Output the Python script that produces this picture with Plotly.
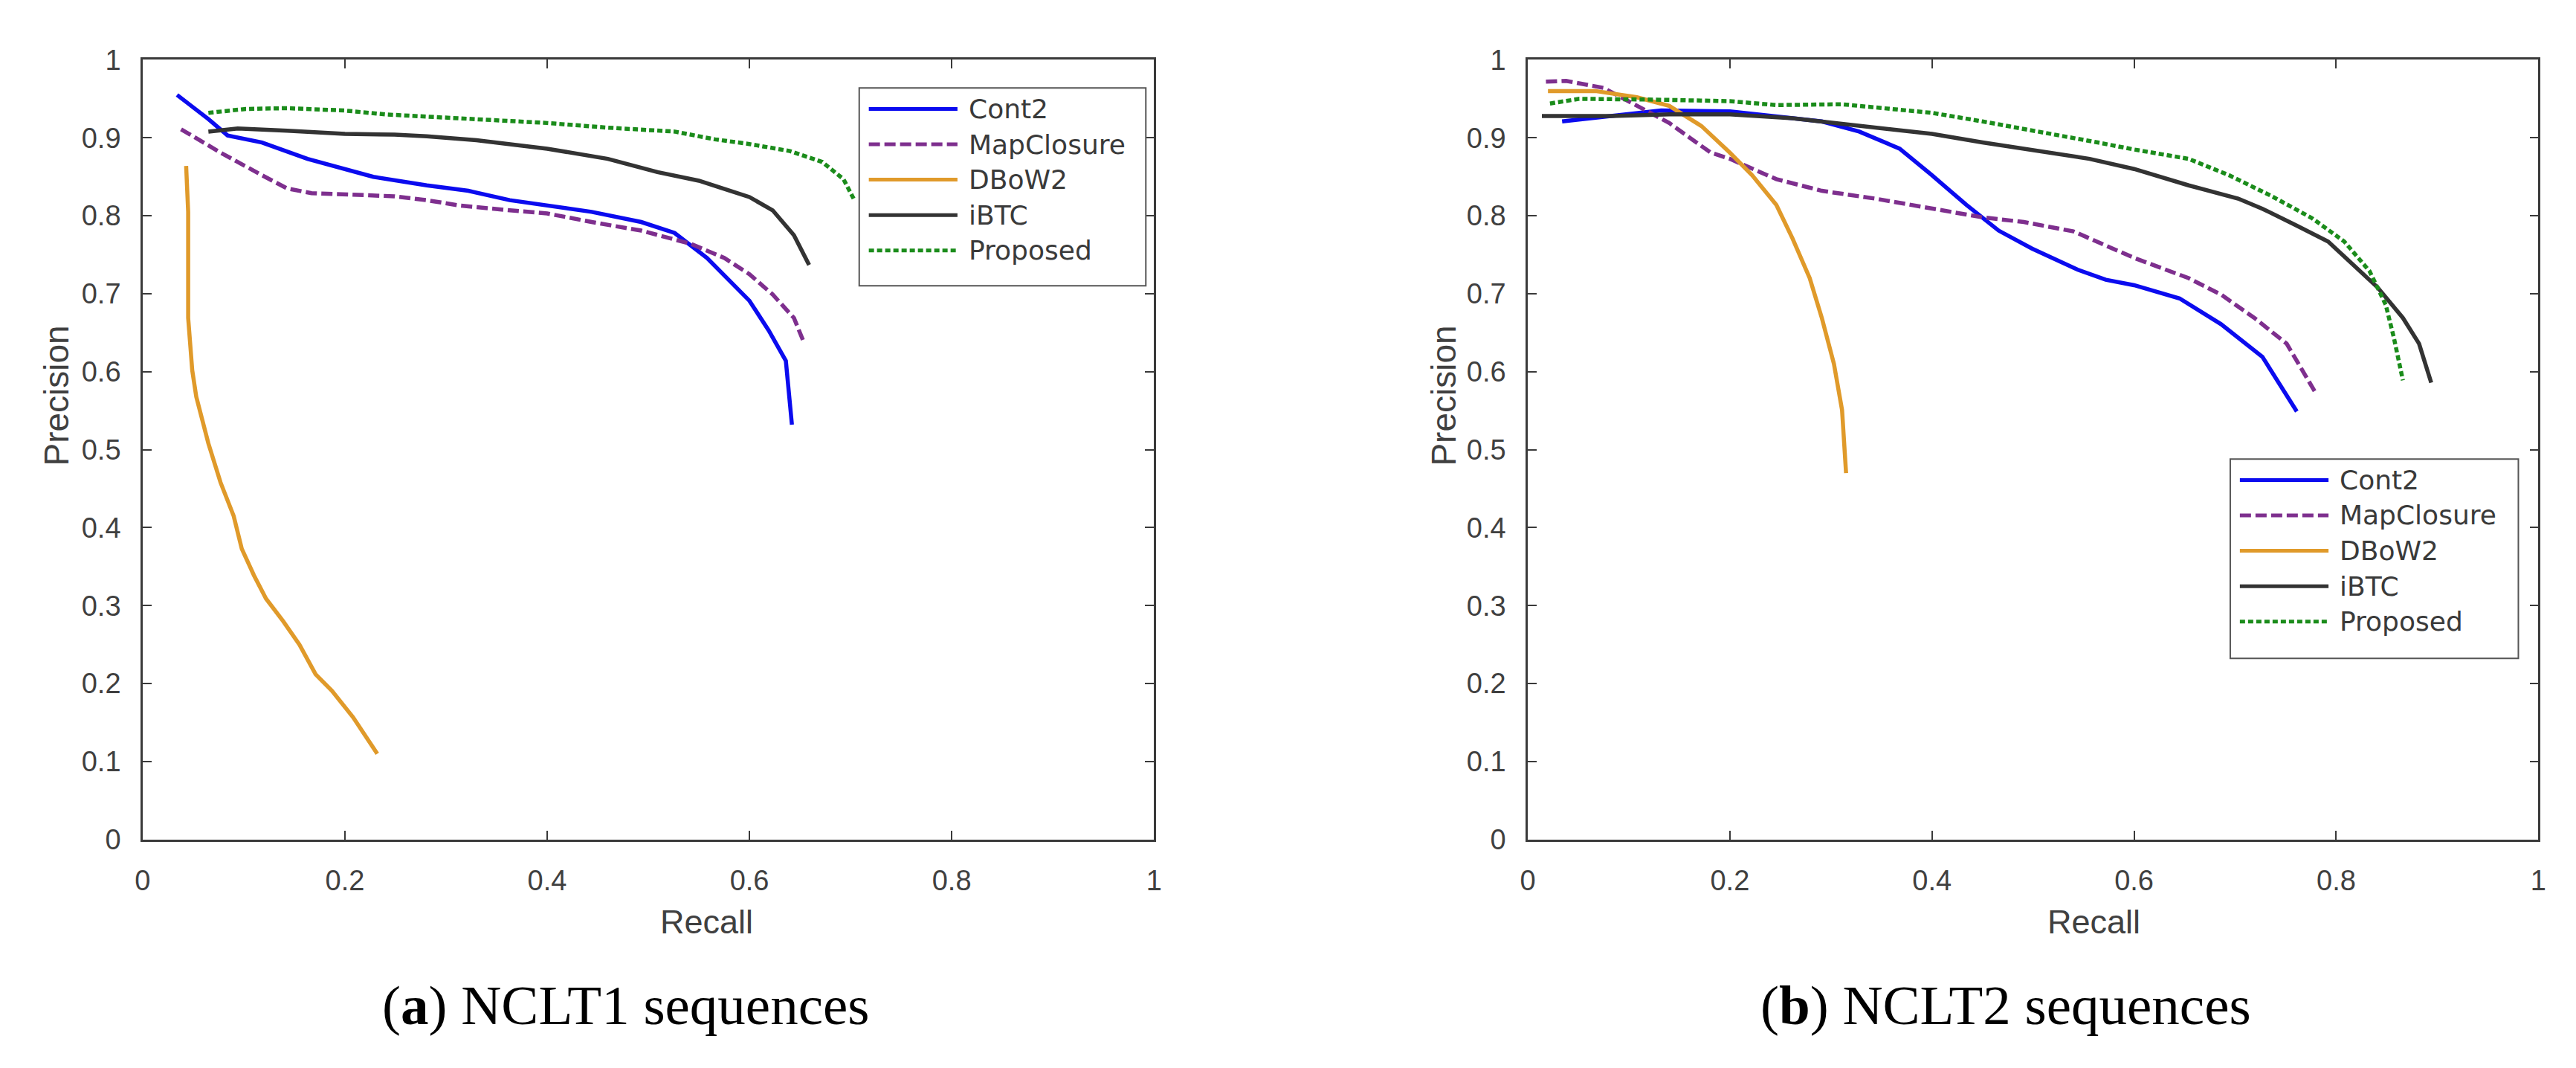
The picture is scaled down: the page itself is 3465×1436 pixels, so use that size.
import plotly.graph_objects as go

W, H = 3465, 1436

# ---- data ----
methods = ["Cont2", "MapClosure", "DBoW2", "iBTC", "Proposed"]

# NCLT1
n1_cont2_r = [0.034, 0.065, 0.084, 0.118, 0.163, 0.200, 0.228, 0.281, 0.322, 0.363, 0.400, 0.444, 0.493, 0.526, 0.558, 0.600, 0.619, 0.636, 0.642]
n1_cont2_p = [0.955, 0.924, 0.903, 0.894, 0.873, 0.860, 0.850, 0.839, 0.832, 0.820, 0.813, 0.805, 0.792, 0.778, 0.746, 0.691, 0.653, 0.614, 0.532]
n1_map_r = [0.038, 0.077, 0.118, 0.143, 0.167, 0.200, 0.249, 0.281, 0.314, 0.363, 0.400, 0.444, 0.493, 0.542, 0.575, 0.600, 0.623, 0.644, 0.654]
n1_map_p = [0.911, 0.881, 0.852, 0.835, 0.829, 0.827, 0.825, 0.820, 0.813, 0.807, 0.803, 0.792, 0.781, 0.764, 0.746, 0.725, 0.699, 0.669, 0.637]
n1_dbow_r = [0.043, 0.045, 0.045, 0.049, 0.053, 0.065, 0.077, 0.090, 0.098, 0.110, 0.122, 0.139, 0.155, 0.171, 0.187, 0.208, 0.232]
n1_dbow_p = [0.864, 0.805, 0.669, 0.602, 0.568, 0.508, 0.458, 0.415, 0.373, 0.339, 0.309, 0.280, 0.250, 0.212, 0.191, 0.157, 0.110]
n1_ibtc_r = [0.065, 0.094, 0.143, 0.200, 0.249, 0.281, 0.330, 0.400, 0.460, 0.509, 0.550, 0.600, 0.623, 0.644, 0.659]
n1_ibtc_p = [0.908, 0.912, 0.909, 0.905, 0.904, 0.902, 0.897, 0.886, 0.873, 0.856, 0.845, 0.824, 0.807, 0.775, 0.737]
n1_prop_r = [0.065, 0.102, 0.143, 0.200, 0.240, 0.322, 0.400, 0.460, 0.526, 0.566, 0.600, 0.640, 0.672, 0.693, 0.703]
n1_prop_p = [0.932, 0.937, 0.938, 0.935, 0.930, 0.925, 0.919, 0.913, 0.908, 0.898, 0.892, 0.883, 0.869, 0.847, 0.822]

# NCLT2
n2_cont2_r = [0.034, 0.083, 0.132, 0.200, 0.246, 0.291, 0.328, 0.368, 0.400, 0.434, 0.466, 0.499, 0.544, 0.572, 0.600, 0.645, 0.686, 0.727, 0.761]
n2_cont2_p = [0.921, 0.928, 0.935, 0.934, 0.928, 0.921, 0.908, 0.886, 0.852, 0.814, 0.781, 0.758, 0.731, 0.718, 0.711, 0.694, 0.661, 0.619, 0.549]
n2_map_r = [0.018, 0.038, 0.075, 0.116, 0.140, 0.181, 0.200, 0.246, 0.291, 0.344, 0.400, 0.450, 0.491, 0.540, 0.600, 0.654, 0.686, 0.719, 0.751, 0.780]
n2_map_p = [0.972, 0.973, 0.964, 0.936, 0.919, 0.881, 0.873, 0.847, 0.832, 0.822, 0.809, 0.798, 0.792, 0.780, 0.746, 0.720, 0.699, 0.669, 0.636, 0.572]
n2_dbow_r = [0.020, 0.067, 0.108, 0.140, 0.172, 0.200, 0.222, 0.246, 0.262, 0.279, 0.291, 0.303, 0.311, 0.315]
n2_dbow_p = [0.960, 0.960, 0.952, 0.941, 0.915, 0.881, 0.852, 0.814, 0.771, 0.720, 0.669, 0.610, 0.551, 0.470]
n2_ibtc_r = [0.014, 0.083, 0.140, 0.200, 0.262, 0.328, 0.400, 0.450, 0.507, 0.556, 0.600, 0.654, 0.703, 0.727, 0.760, 0.792, 0.817, 0.841, 0.866, 0.882, 0.894]
n2_ibtc_p = [0.928, 0.928, 0.930, 0.930, 0.925, 0.916, 0.905, 0.894, 0.883, 0.873, 0.860, 0.839, 0.822, 0.809, 0.788, 0.767, 0.737, 0.708, 0.669, 0.636, 0.586]
n2_prop_r = [0.022, 0.051, 0.124, 0.200, 0.246, 0.311, 0.368, 0.400, 0.450, 0.507, 0.564, 0.600, 0.654, 0.694, 0.735, 0.776, 0.808, 0.833, 0.849, 0.857, 0.866]
n2_prop_p = [0.944, 0.950, 0.949, 0.947, 0.942, 0.943, 0.936, 0.932, 0.921, 0.908, 0.894, 0.885, 0.873, 0.852, 0.826, 0.797, 0.767, 0.729, 0.686, 0.644, 0.589]

x_ticks = [0, 0.2, 0.4, 0.6, 0.8, 1]
x_ticktext = ["0", "0.2", "0.4", "0.6", "0.8", "1"]
y_ticks = [0, 0.1, 0.2, 0.3, 0.4, 0.5, 0.6, 0.7, 0.8, 0.9, 1]
y_ticktext = ["0", "0.1", "0.2", "0.3", "0.4", "0.5", "0.6", "0.7", "0.8", "0.9", "1"]

captions = ["(<b>a</b>) NCLT1 sequences", "(<b>b</b>) NCLT2 sequences"]

# ---- styles ----
colors = ["#0b0bef", "#7e2f8e", "#e09a2a", "#333333", "#1b8c1b"]
dashes = ["solid", "15px,6px", "solid", "solid", "7px,4px"]
LW = 5.5

def fx(px):
    return px / W

def fy(py):
    return 1 - py / H

panels = [
    [(n1_cont2_r, n1_cont2_p), (n1_map_r, n1_map_p), (n1_dbow_r, n1_dbow_p),
     (n1_ibtc_r, n1_ibtc_p), (n1_prop_r, n1_prop_p)],
    [(n2_cont2_r, n2_cont2_p), (n2_map_r, n2_map_p), (n2_dbow_r, n2_dbow_p),
     (n2_ibtc_r, n2_ibtc_p), (n2_prop_r, n2_prop_p)],
]

# plot-area pixel boxes (left, right), shared top/bottom
plot_x = [(174, 1543), (2049, 3417)]
plot_top, plot_bot = 53, 1133
legend_box = [(1144, 92, 1532, 366), (3000, 606, 3390, 882)]
recall_x = [937, 2815]
precision_x = [57, 1935]
caption_x = [828, 2696]

fig = go.Figure()
for k, series in enumerate(panels):
    xa = "x" if k == 0 else "x2"
    ya = "y" if k == 0 else "y2"
    for name, (r, p), c, d in zip(methods, series, colors, dashes):
        fig.add_trace(go.Scatter(x=r, y=p, mode="lines", name=name, showlegend=False,
                                 xaxis=xa, yaxis=ya,
                                 line=dict(color=c, width=LW, dash=d)))

axis_common = dict(range=[0, 1], showgrid=False, zeroline=False, showline=True,
                   linecolor="#3a3a3a", linewidth=2.5, mirror="ticks",
                   ticks="inside", ticklen=12, tickwidth=2, tickcolor="#3a3a3a",
                   tickfont=dict(family="Liberation Sans, Arial", size=38, color="#404040"))

layout = dict(width=W, height=H, margin=dict(l=0, r=0, t=0, b=0),
              paper_bgcolor="white", plot_bgcolor="white", showlegend=False)
for k in range(2):
    sx = "" if k == 0 else "2"
    layout["xaxis" + sx] = dict(axis_common, domain=[fx(plot_x[k][0]), fx(plot_x[k][1])],
                                anchor="y" + sx, tickvals=x_ticks, ticktext=x_ticktext,
                                ticklabelstandoff=20)
    layout["yaxis" + sx] = dict(axis_common, domain=[fy(plot_bot), fy(plot_top)],
                                anchor="x" + sx, tickvals=y_ticks, ticktext=y_ticktext,
                                ticklabelstandoff=19)
fig.update_layout(**layout)

shapes = []
annotations = []
for k in range(2):
    # axis titles
    annotations.append(dict(x=fx(recall_x[k]), y=fy(1247), xref="paper", yref="paper",
                            text="Recall", showarrow=False, xanchor="center", yanchor="middle",
                            font=dict(family="Liberation Sans, Arial", size=45, color="#404040")))
    annotations.append(dict(x=fx(precision_x[k]), y=fy(518), xref="paper", yref="paper",
                            text="Precision", showarrow=False, textangle=-90,
                            xanchor="center", yanchor="middle",
                            font=dict(family="Liberation Sans, Arial", size=46, color="#404040")))
    annotations.append(dict(x=fx(caption_x[k]), y=fy(1362), xref="paper", yref="paper",
                            text=captions[k], showarrow=False, xanchor="center", yanchor="middle",
                            font=dict(family="Liberation Serif, Times New Roman", size=75, color="black")))
    # legend box
    x0, y0, x1, y1 = legend_box[k]
    shapes.append(dict(type="rect", xref="paper", yref="paper",
                       x0=fx(x0), x1=fx(x1), y0=fy(y1), y1=fy(y0),
                       line=dict(color="#555555", width=2), fillcolor="white", layer="above"))
    for i, (name, c, d) in enumerate(zip(methods, colors, dashes)):
        ry = y0 + 29 + i * 49
        shapes.append(dict(type="line", xref="paper", yref="paper",
                           x0=fx(x0 + 13), x1=fx(x0 + 133), y0=fy(ry), y1=fy(ry),
                           line=dict(color=c, width=5, dash=d), layer="above"))
        annotations.append(dict(x=fx(x0 + 146), y=fy(ry), xref="paper", yref="paper",
                                text=name, showarrow=False, xanchor="left", yanchor="middle",
                                font=dict(family="DejaVu Sans, Verdana", size=36, color="#3a3a3a")))

fig.update_layout(shapes=shapes, annotations=annotations)

fig.write_html("out.html")
